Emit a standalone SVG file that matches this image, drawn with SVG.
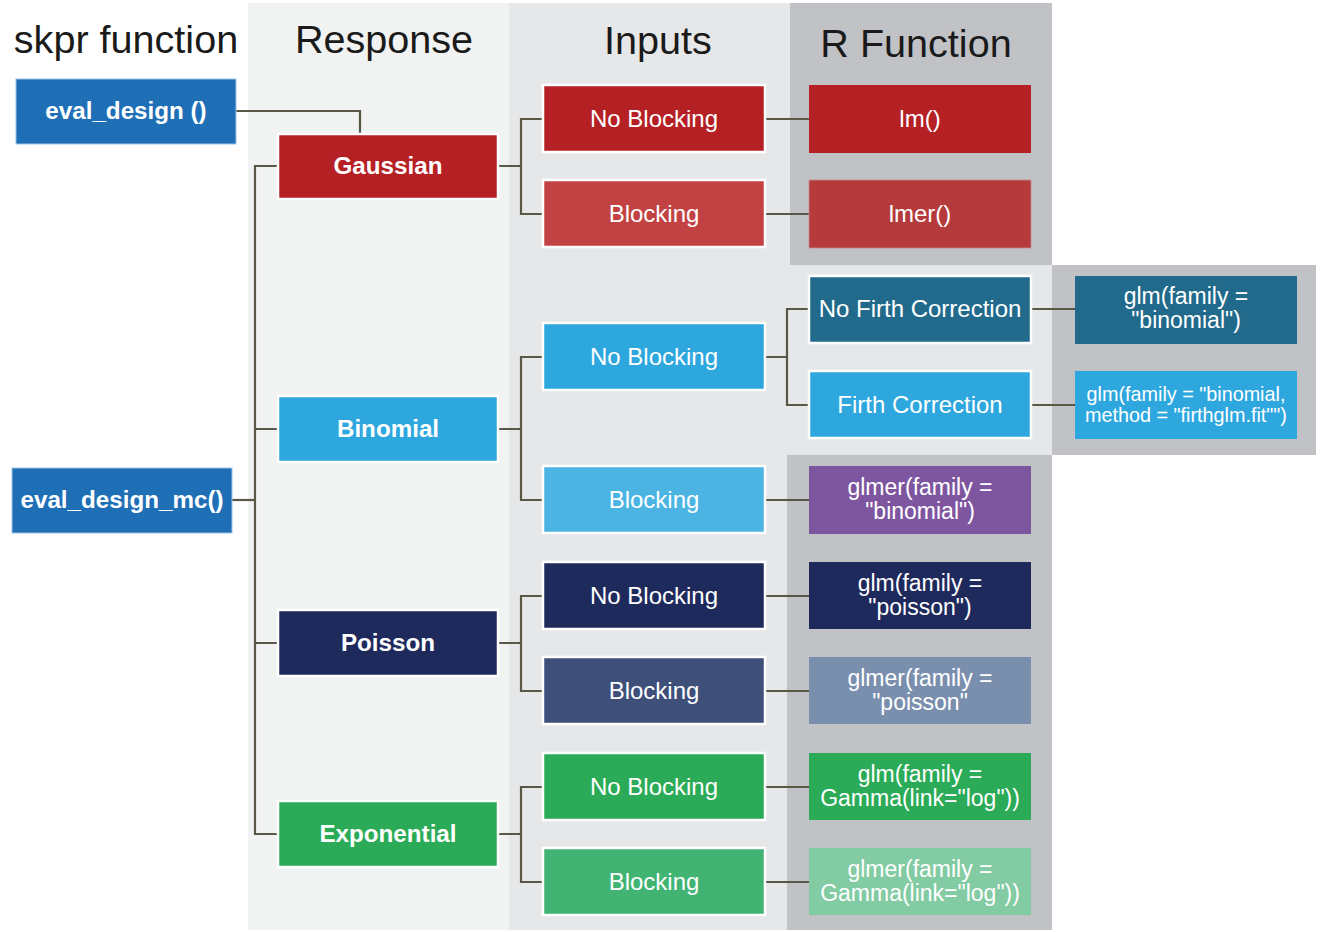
<svg xmlns="http://www.w3.org/2000/svg" width="1320" height="932" viewBox="0 0 1320 932">
<style>
.hdr{font-family:"Liberation Sans",Arial,sans-serif;font-size:39.6px;fill:#1a1a1a;text-anchor:middle}
.t{font-family:"Liberation Sans",Arial,sans-serif;font-size:24px;fill:#fff;text-anchor:middle}
.b{font-family:"Liberation Sans",Arial,sans-serif;font-size:24.2px;font-weight:bold;fill:#fff;text-anchor:middle}
.f{font-family:"Liberation Sans",Arial,sans-serif;font-size:23px;fill:#fff;text-anchor:middle}
.s{font-family:"Liberation Sans",Arial,sans-serif;font-size:19.8px;fill:#fff;text-anchor:middle}
.w{stroke:#fff;stroke-width:2.5}
.sk{stroke:#9cc3e6;stroke-width:1}
#connectors path{fill:none;stroke:#5b5747;stroke-width:2.2}
</style>
<rect width="1320" height="932" fill="#fff"/>
<g id="columns">
<rect x="248" y="3" width="261" height="927" fill="#f1f2f2"/>
<rect x="509" y="3" width="281" height="927" fill="#e6e7e8"/>
<rect x="790" y="3" width="262" height="262" fill="#c1c2c6"/>
<rect x="790" y="265" width="262" height="190" fill="#e6e7e8"/>
<rect x="1052" y="265" width="264" height="190" fill="#c1c2c6"/>
<rect x="787" y="455" width="265" height="475" fill="#c1c2c6"/>
</g>
<g id="headers">
<text class="hdr" x="126" y="53">skpr function</text>
<text class="hdr" x="384" y="53">Response</text>
<text class="hdr" x="658" y="54">Inputs</text>
<text class="hdr" x="916" y="57">R Function</text>
</g>
<g id="connectors">
<path d="M236,111 H360 V134"/>
<path d="M232,500 H255"/>
<path d="M278,166 H255 V834 H278 M255,429 H278 M255,643 H278"/>
<path d="M498,166 H521 M543,119 H521 V214 H543"/>
<path d="M498,429 H521 M543,357 H521 V500 H543"/>
<path d="M498,643 H521 M543,596 H521 V691 H543"/>
<path d="M498,834 H521 M543,787 H521 V882 H543"/>
<path d="M765,119 H809 M765,214 H809 M765,500 H809 M765,596 H809 M765,691 H809 M765,787 H809 M765,882 H809"/>
<path d="M765,357 H787 M809,309 H787 V405 H809"/>
<path d="M1031,309 H1075 M1031,405 H1075"/>
</g>
<g id="eval_design">
<rect x="16" y="79" width="220" height="65" fill="#1f6fb7" class="sk"/>
<text class="b" x="126" y="119">eval_design ()</text>
</g>
<g id="eval_design_mc">
<rect x="12" y="468" width="220" height="65" fill="#1f6fb7" class="sk"/>
<text class="b" x="122" y="508">eval_design_mc()</text>
</g>
<g id="gaussian">
<rect x="278" y="134" width="220" height="65" fill="#b52025" class="w"/>
<text class="b" x="388" y="174">Gaussian</text>
</g>
<g id="binomial">
<rect x="278" y="396" width="220" height="66" fill="#2ea7de" class="w"/>
<text class="b" x="388" y="437">Binomial</text>
</g>
<g id="poisson">
<rect x="278" y="610" width="220" height="66" fill="#1f2a5c" class="w"/>
<text class="b" x="388" y="651">Poisson</text>
</g>
<g id="exponential">
<rect x="278" y="801" width="220" height="66" fill="#2bab57" class="w"/>
<text class="b" x="388" y="842">Exponential</text>
</g>
<g id="gauss_noblock">
<rect x="543" y="85" width="222" height="67" fill="#b52025" class="w"/>
<text class="t" x="654" y="127">No Blocking</text>
</g>
<g id="gauss_block">
<rect x="543" y="180" width="222" height="67" fill="#c24244" class="w"/>
<text class="t" x="654" y="222">Blocking</text>
</g>
<g id="binom_noblock">
<rect x="543" y="323" width="222" height="67" fill="#2ea7de" class="w"/>
<text class="t" x="654" y="365">No Blocking</text>
</g>
<g id="binom_block">
<rect x="543" y="466" width="222" height="67" fill="#4bb4e2" class="w"/>
<text class="t" x="654" y="508">Blocking</text>
</g>
<g id="pois_noblock">
<rect x="543" y="562" width="222" height="67" fill="#1f2a5c" class="w"/>
<text class="t" x="654" y="604">No Blocking</text>
</g>
<g id="pois_block">
<rect x="543" y="657" width="222" height="67" fill="#3e4f7a" class="w"/>
<text class="t" x="654" y="699">Blocking</text>
</g>
<g id="exp_noblock">
<rect x="543" y="753" width="222" height="67" fill="#2bab57" class="w"/>
<text class="t" x="654" y="795">No Blocking</text>
</g>
<g id="exp_block">
<rect x="543" y="848" width="222" height="67" fill="#41b373" class="w"/>
<text class="t" x="654" y="890">Blocking</text>
</g>
<g id="lm">
<rect x="809" y="85" width="222" height="68" fill="#b52025"/>
<text class="t" x="920" y="127">lm()</text>
</g>
<g id="lmer">
<rect x="809" y="180" width="222" height="68" fill="#b53a3c" stroke="#c98a8b" stroke-width="0.8"/>
<text class="t" x="920" y="222">lmer()</text>
</g>
<g id="no_firth">
<rect x="809" y="276" width="222" height="67" fill="#216a8b" class="w"/>
<text class="t" x="920" y="317">No Firth Correction</text>
</g>
<g id="firth">
<rect x="809" y="371" width="222" height="67" fill="#2ea7de" class="w"/>
<text class="t" x="920" y="413">Firth Correction</text>
</g>
<g id="glm_binomial">
<rect x="1075" y="276" width="222" height="68" fill="#216a8b"/>
<text class="f" x="1186" y="304">glm(family =</text>
<text class="f" x="1186" y="328">"binomial")</text>
</g>
<g id="glm_firth">
<rect x="1075" y="371" width="222" height="68" fill="#2ea7de"/>
<text class="s" x="1186" y="401">glm(family = "binomial,</text>
<text class="s" x="1186" y="422">method = "firthglm.fit"")</text>
</g>
<g id="glmer_binomial">
<rect x="809" y="466" width="222" height="68" fill="#7e56a0"/>
<text class="f" x="920" y="495">glmer(family =</text>
<text class="f" x="920" y="519">"binomial")</text>
</g>
<g id="glm_poisson">
<rect x="809" y="562" width="222" height="67" fill="#1f2a5c"/>
<text class="f" x="920" y="591">glm(family =</text>
<text class="f" x="920" y="615">"poisson")</text>
</g>
<g id="glmer_poisson">
<rect x="809" y="657" width="222" height="67" fill="#7a8fae"/>
<text class="f" x="920" y="686">glmer(family =</text>
<text class="f" x="920" y="710">"poisson"</text>
</g>
<g id="glm_gamma">
<rect x="809" y="753" width="222" height="67" fill="#2bab57"/>
<text class="f" x="920" y="782">glm(family =</text>
<text class="f" x="920" y="806">Gamma(link="log"))</text>
</g>
<g id="glmer_gamma">
<rect x="809" y="848" width="222" height="67" fill="#83cba3"/>
<text class="f" x="920" y="877">glmer(family =</text>
<text class="f" x="920" y="901">Gamma(link="log"))</text>
</g>
</svg>
